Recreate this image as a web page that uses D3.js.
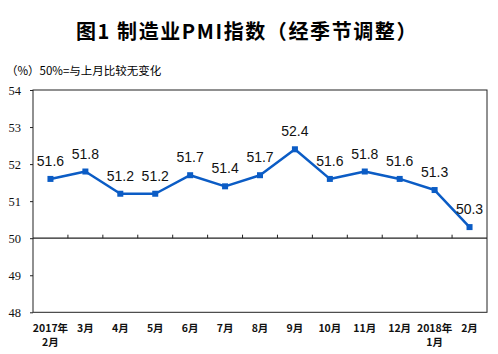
<!DOCTYPE html>
<html><head><meta charset="utf-8">
<script src="https://cdn.jsdelivr.net/npm/d3@7"></script>
<style>body{margin:0;background:#fff}svg{display:block}</style>
</head><body>
<svg id="c" width="498" height="354"></svg>
<script>
const title = "图1 制造业PMI指数（经季节调整）";
const subtitle = "（%）50%=与上月比较无变化";
const categories = ["2017年\n2月","3月","4月","5月","6月","7月","8月","9月","10月","11月","12月","2018年\n1月","2月"];
const pmi = [51.6,51.8,51.2,51.2,51.7,51.4,51.7,52.4,51.6,51.8,51.6,51.3,50.3];
const yTicks = [48,49,50,51,52,53,54];

const svg = d3.select("#c");
const L=33, R=487, T=90, B=312.3;
const x = d3.scaleBand().domain(categories).range([L,R]).padding(0);
const y = d3.scaleLinear().domain([48,54]).range([B,T]);
const blue = "#0b5cc5";

svg.append("text").attr("x",247).attr("y",39).attr("text-anchor","middle")
  .attr("font-family","'Noto Sans CJK SC'").attr("font-weight","bold").attr("font-size",20)
  .attr("letter-spacing",1.6)
  .text(title);
svg.append("text").attr("x",6).attr("y",75)
  .attr("font-family","'Noto Sans CJK SC'").attr("font-size",11.5)
  .text(subtitle);

// frame
svg.append("rect").attr("x",L).attr("y",T).attr("width",R-L).attr("height",B-T)
  .attr("fill","none").attr("stroke","#222").attr("stroke-width",1);

// y axis
const ya = svg.append("g").attr("transform",`translate(${L},0)`)
  .call(d3.axisLeft(y).tickValues(yTicks).tickSize(3).tickFormat(d3.format("d")));
ya.select(".domain").remove();
ya.selectAll("line").attr("stroke","#222");
ya.selectAll("text").attr("font-family","'Liberation Serif'").attr("font-size",12.5).attr("fill","#111").attr("x",-12);

// x axis at 50
const xa = svg.append("g").attr("transform",`translate(0,${y(50)})`);
xa.append("line").attr("x1",L).attr("x2",R).attr("stroke","#222").attr("stroke-width",1.2);
xa.selectAll("line.t").data(categories.slice(1)).enter().append("line")
  .attr("x1",d=>x(d)).attr("x2",d=>x(d)).attr("y1",0).attr("y2",-3.5).attr("stroke","#222");

// x labels
const xl = svg.append("g");
categories.forEach(c=>{
  const lines=c.split("\n");
  lines.forEach((s,i)=>{
    xl.append("text").attr("x",x(c)+x.bandwidth()/2).attr("y",332+i*13.5)
      .attr("text-anchor","middle").attr("font-family","'Noto Sans CJK SC'")
      .attr("font-weight","bold").attr("font-size",10.5).attr("fill","#111").text(s);
  });
});

const cx = (d,i)=>x(categories[i])+x.bandwidth()/2;
svg.append("path").datum(pmi)
  .attr("d",d3.line().x(cx).y(d=>y(d)))
  .attr("fill","none").attr("stroke",blue).attr("stroke-width",2.5).attr("stroke-linejoin","round");
svg.selectAll("rect.m").data(pmi).enter().append("rect")
  .attr("x",(d,i)=>cx(d,i)-3).attr("y",d=>y(d)-3).attr("width",6).attr("height",6).attr("fill",blue);
svg.selectAll("text.v").data(pmi).enter().append("text")
  .attr("x",cx).attr("y",d=>y(d)-13).attr("text-anchor","middle")
  .attr("font-family","'Liberation Sans'").attr("font-size",14).attr("fill","#111")
  .text(d=>d.toFixed(1));
</script>
</body></html>
